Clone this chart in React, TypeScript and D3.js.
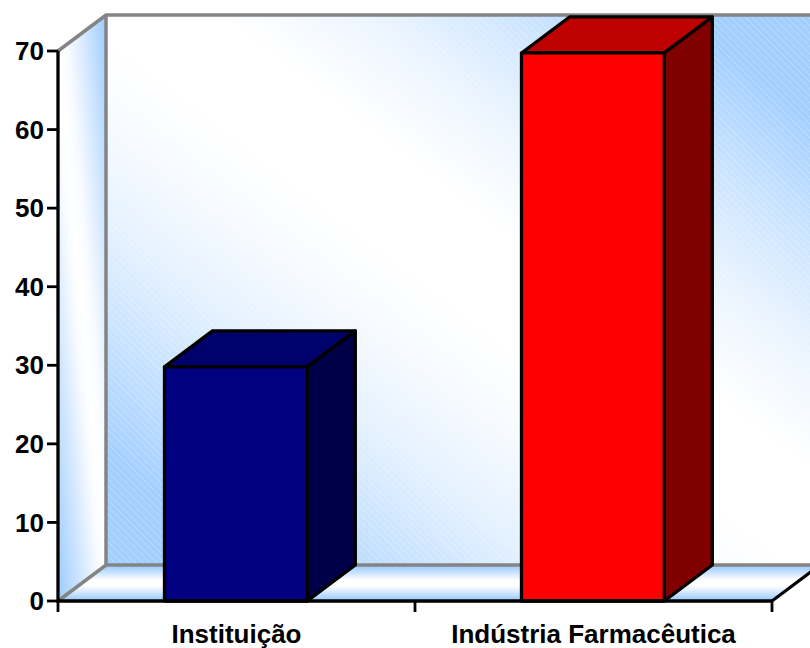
import React from "react";
import * as d3 from "d3";

const categories = ["Instituição", "Indústria Farmacêutica"];
const values = [29.8, 69.75];
const yTicks = [0, 10, 20, 30, 40, 50, 60, 70];
const frontColors = ["#000080", "#ff0000"];
const topColors = ["#00006c", "#bf0000"];
const sideColors = ["#000048", "#800000"];

const W = 810, H = 648;
const x0 = 58, x1 = 772, yBase = 601, yTop = 51;
const dx = 48, dy = -36;
const BLUE = "#a3cfff";

const y = d3.scaleLinear().domain([0, 70]).range([yBase, yTop]);
const x = d3.scaleBand<string>().domain(categories).range([x0, x1]).paddingInner(0.6).paddingOuter(0.3);
const axisX = d3.scalePoint<number>().domain([0, 1, 2]).range([x0, x1]);

const poly = (pts: [number, number][]) => d3.line()(pts)! + "Z";

function diag(id: string, ax: number, ay: number, bx: number, by: number, cx: number, cy: number, stops: [number, string][]) {
  const lx = bx - ax, ly = by - ay, len = Math.hypot(lx, ly);
  const nx = ly / len, ny = -lx / len;
  const d = Math.abs((cx - ax) * nx + (cy - ay) * ny);
  const mx = (ax + bx) / 2, my = (ay + by) / 2;
  return (
    <linearGradient id={id} gradientUnits="userSpaceOnUse" x1={mx - nx * d} y1={my - ny * d} x2={mx + nx * d} y2={my + ny * d}>
      {stops.map(([o, c], i) => <stop key={i} offset={o} stopColor={c} />)}
    </linearGradient>
  );
}

export default function App() {
  const wall = poly([[x0 + dx, yBase + dy], [x0 + dx, yTop + dy], [x1 + dx, yTop + dy], [x1 + dx, yBase + dy]]);
  const side = poly([[x0, yBase], [x0, yTop], [x0 + dx, yTop + dy], [x0 + dx, yBase + dy]]);
  const floor = poly([[x0, yBase], [x1, yBase], [x1 + dx, yBase + dy], [x0 + dx, yBase + dy]]);
  const font = "'Liberation Sans', Arial, sans-serif";
  return (
    <svg width={W} height={H} style={{ position: "absolute", left: 0, top: 0, background: "#fff" }}>
      <defs>
        {diag("wallG", x0 + dx, yTop + dy, x1 + dx, yBase + dy, x1 + dx, yTop + dy, [
          [0.1, BLUE], [0.2, "#c4e0ff"], [0.3, "#e2f0ff"], [0.4, "#f6faff"], [0.48, "#ffffff"],
          [0.58, "#ffffff"], [0.68, "#ecf5ff"], [0.78, "#cfe6ff"], [0.9, BLUE],
        ])}
        {diag("sideG", x0, yTop, x0 + dx, yBase + dy, x0 + dx, yTop + dy, [
          [0.03, BLUE], [0.25, "#d2e7ff"], [0.42, "#f8fbff"], [0.5, "#ffffff"], [0.6, "#f8fbff"], [0.78, "#d2e7ff"], [0.97, BLUE],
        ])}
        <linearGradient id="floorG" x1="0" y1="0" x2="0" y2="1">
          <stop offset="0.06" stopColor={BLUE} />
          <stop offset="0.42" stopColor="#ffffff" />
          <stop offset="0.58" stopColor="#ffffff" />
          <stop offset="0.94" stopColor={BLUE} />
        </linearGradient>
        <pattern id="hatch" width="7" height="7" patternUnits="userSpaceOnUse">
          <path d="M-1,-1L8,8M-1,6L1,8M6,-1L8,1" stroke="#fff" strokeOpacity={0.28} strokeWidth={1} />
        </pattern>
      </defs>

      <path d={wall} fill="url(#wallG)" />
      <path d={wall} fill="url(#hatch)" />
      <path d={side} fill="url(#sideG)" />
      <path d={floor} fill="url(#floorG)" />

      <g stroke="#848484" strokeWidth={3.5} fill="none">
        <path d={`M${x0},${yTop}L${x0 + dx},${yTop + dy}L${W + 5},${yTop + dy}`} />
        <path d={`M${x0 + dx},${yTop + dy}V${yBase + dy}`} />
        <path d={`M${x0},${yBase}L${x0 + dx},${yBase + dy}H${W + 5}`} />
      </g>
      <path d={`M${x1},${yBase}L${x1 + dx},${yBase + dy}`} stroke="#000" strokeWidth={3} />

      <g transform="translate(-0.6,0)">
        {categories.map((c, i) => {
          const l = x(c)!, r = l + x.bandwidth(), t = y(values[i]);
          return (
            <g key={c} stroke="#000" strokeWidth={3.3} strokeLinejoin="round">
              <path d={poly([[l, t], [r, t], [r + dx, t + dy], [l + dx, t + dy]])} fill={topColors[i]} />
              <path d={poly([[r, t], [r + dx, t + dy], [r + dx, yBase + dy], [r, yBase]])} fill={sideColors[i]} />
              <path d={poly([[l, t], [r, t], [r, yBase], [l, yBase]])} fill={frontColors[i]} />
            </g>
          );
        })}
      </g>

      <g stroke="#000" strokeWidth={3.3} fill="none">
        <path d={`M${x0},${yTop}V${yBase}H${x1}`} />
        {yTicks.map(t => <path key={t} d={`M${x0 - 11},${y(t)}H${x0}`} strokeWidth={2.8} />)}
        {axisX.domain().map(t => <path key={t} d={`M${axisX(t)},${yBase}V${yBase + 11}`} strokeWidth={2.8} />)}
      </g>

      <g fontFamily={font} fontWeight={700} fontSize={26} fill="#000">
        {yTicks.map(t => <text key={t} x={44} y={y(t)} dy="0.35em" textAnchor="end">{t}</text>)}
        {categories.map(c => <text key={c} x={x(c)! + x.bandwidth() / 2} y={643} textAnchor="middle">{c}</text>)}
      </g>
    </svg>
  );
}
